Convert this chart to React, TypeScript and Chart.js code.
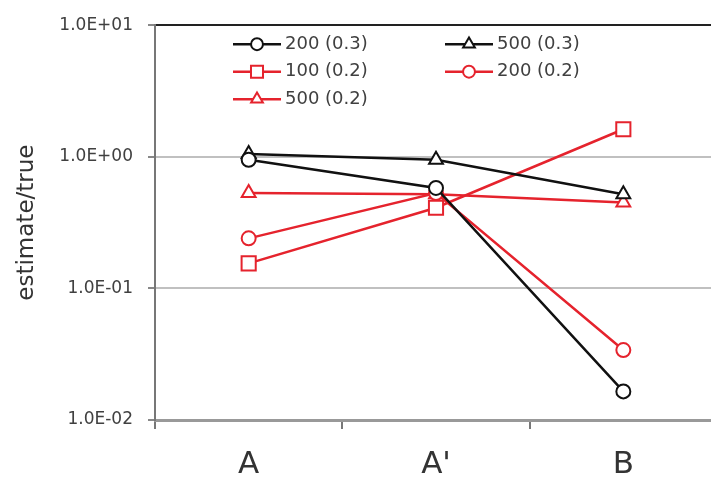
import React, { useEffect, useRef } from "react";
import { Chart, registerables } from "chart.js";
import { drawPoint } from "chart.js/helpers";

Chart.register(...registerables);

const categories = ["A", "A'", "B"];
const s200_03 = [0.95, 0.58, 0.0165];
const s500_03 = [1.05, 0.95, 0.52];
const s100_02 = [0.155, 0.41, 1.62];
const s200_02 = [0.24, 0.53, 0.034];
const s500_02 = [0.53, 0.52, 0.45];
const yTickValues = [0.01, 0.1, 1, 10];
const yTickLabels = ["1.0E-02", "1.0E-01", "1.0E+00", "1.0E+01"];
const seriesNames = ["200 (0.3)", "500 (0.3)", "100 (0.2)", "200 (0.2)", "500 (0.2)"];

const BLACK = "#111111";
const RED = "#e5232d";
const FONT = "'DejaVu Sans', sans-serif";

const styles = [
  { color: BLACK, pointStyle: "circle", radius: 7 },
  { color: BLACK, pointStyle: "triangle", radius: 8 },
  { color: RED, pointStyle: "rect", radius: 10 },
  { color: RED, pointStyle: "circle", radius: 7 },
  { color: RED, pointStyle: "triangle", radius: 8 },
];

const legendPlugin = {
  id: "insideLegend",
  afterDraw(chart: any) {
    const ctx = chart.ctx;
    const ca = chart.chartArea;
    const colX = [ca.left + 78, ca.left + 290];
    const rowY = [ca.top + 19, ca.top + 46.5, ca.top + 74];
    ctx.save();
    chart.data.datasets.forEach((ds: any, i: number) => {
      const col = i % 2;
      const row = Math.floor(i / 2);
      const x0 = colX[col];
      const y = rowY[row];
      const st = styles[i];
      ctx.strokeStyle = st.color;
      ctx.lineWidth = 2.5;
      ctx.beginPath();
      ctx.moveTo(x0, y);
      ctx.lineTo(x0 + 48, y);
      ctx.stroke();
      ctx.fillStyle = "#ffffff";
      ctx.strokeStyle = st.color;
      ctx.lineWidth = 2;
      drawPoint(ctx, { pointStyle: st.pointStyle, radius: st.radius * 0.85, rotation: 0, borderWidth: 2 } as any, x0 + 24, y);
      ctx.fillStyle = "#404040";
      ctx.font = `18px ${FONT}`;
      ctx.textAlign = "left";
      ctx.textBaseline = "middle";
      ctx.fillText(ds.label, x0 + 52, y);
    });
    ctx.restore();
  },
};

export default function App() {
  const ref = useRef<HTMLCanvasElement>(null);
  useEffect(() => {
    if (!ref.current) return;
    const series = [s200_03, s500_03, s100_02, s200_02, s500_02];
    const chart = new Chart(ref.current, {
      type: "line",
      data: {
        labels: categories,
        datasets: series.map((d, i) => ({
          label: seriesNames[i],
          data: d,
          borderColor: styles[i].color,
          backgroundColor: "#ffffff",
          pointBackgroundColor: "#ffffff",
          pointBorderColor: styles[i].color,
          pointBorderWidth: 2,
          pointStyle: styles[i].pointStyle as any,
          pointRadius: styles[i].radius,
          borderWidth: 2.5,
          tension: 0,
          fill: false,
        })),
      },
      options: {
        responsive: false,
        animation: false,
        devicePixelRatio: 1,
        layout: { padding: { top: 21, left: 0, right: 0, bottom: 0 } },
        plugins: {
          legend: { display: false },
          tooltip: { enabled: false },
        },
        scales: {
          x: {
            type: "category",
            offset: true,
            grid: {
              display: true,
              drawOnChartArea: false,
              offset: true,
              tickLength: 9,
              tickColor: "#777777",
              lineWidth: 2,
            },
            border: { color: "#999999", width: 3 },
            ticks: {
              color: "#333333",
              font: { family: FONT, size: 31 },
              padding: 17,
            },
            afterFit: (s: any) => {
              s.height = 61;
            },
          },
          y: {
            type: "logarithmic",
            min: 0.01,
            max: 10,
            afterBuildTicks: (s: any) => {
              s.ticks = yTickValues.map((v) => ({ value: v }));
            },
            ticks: {
              color: "#404040",
              font: { family: FONT, size: 17 },
              padding: 15,
              callback: (v: any) => {
                const idx = yTickValues.findIndex((t) => Math.abs(t - Number(v)) < 1e-9);
                return idx >= 0 ? yTickLabels[idx] : "";
              },
            },
            grid: {
              color: (c: any) => (c.tick && c.tick.value === 10 ? "#222222" : c.tick && c.tick.value === 0.01 ? "#999999" : "#c0c0c0"),
              lineWidth: 2,
              tickLength: 7,
              tickColor: "#888888",
            },
            border: { color: "#777777", width: 2 },
            title: {
              display: true,
              text: "estimate/true",
              color: "#333333",
              font: { family: FONT, size: 23 },
              padding: { top: 13, bottom: 0 },
            },
            afterFit: (s: any) => {
              s.width = 155;
            },
          },
        },
      },
      plugins: [legendPlugin],
    });
    return () => chart.destroy();
  }, []);
  return (
    <div style={{ position: "absolute", left: 0, top: 0, width: 711, height: 481, overflow: "hidden", background: "#ffffff" }}>
      <canvas ref={ref} width={729} height={481} style={{ display: "block" }} />
    </div>
  );
}
